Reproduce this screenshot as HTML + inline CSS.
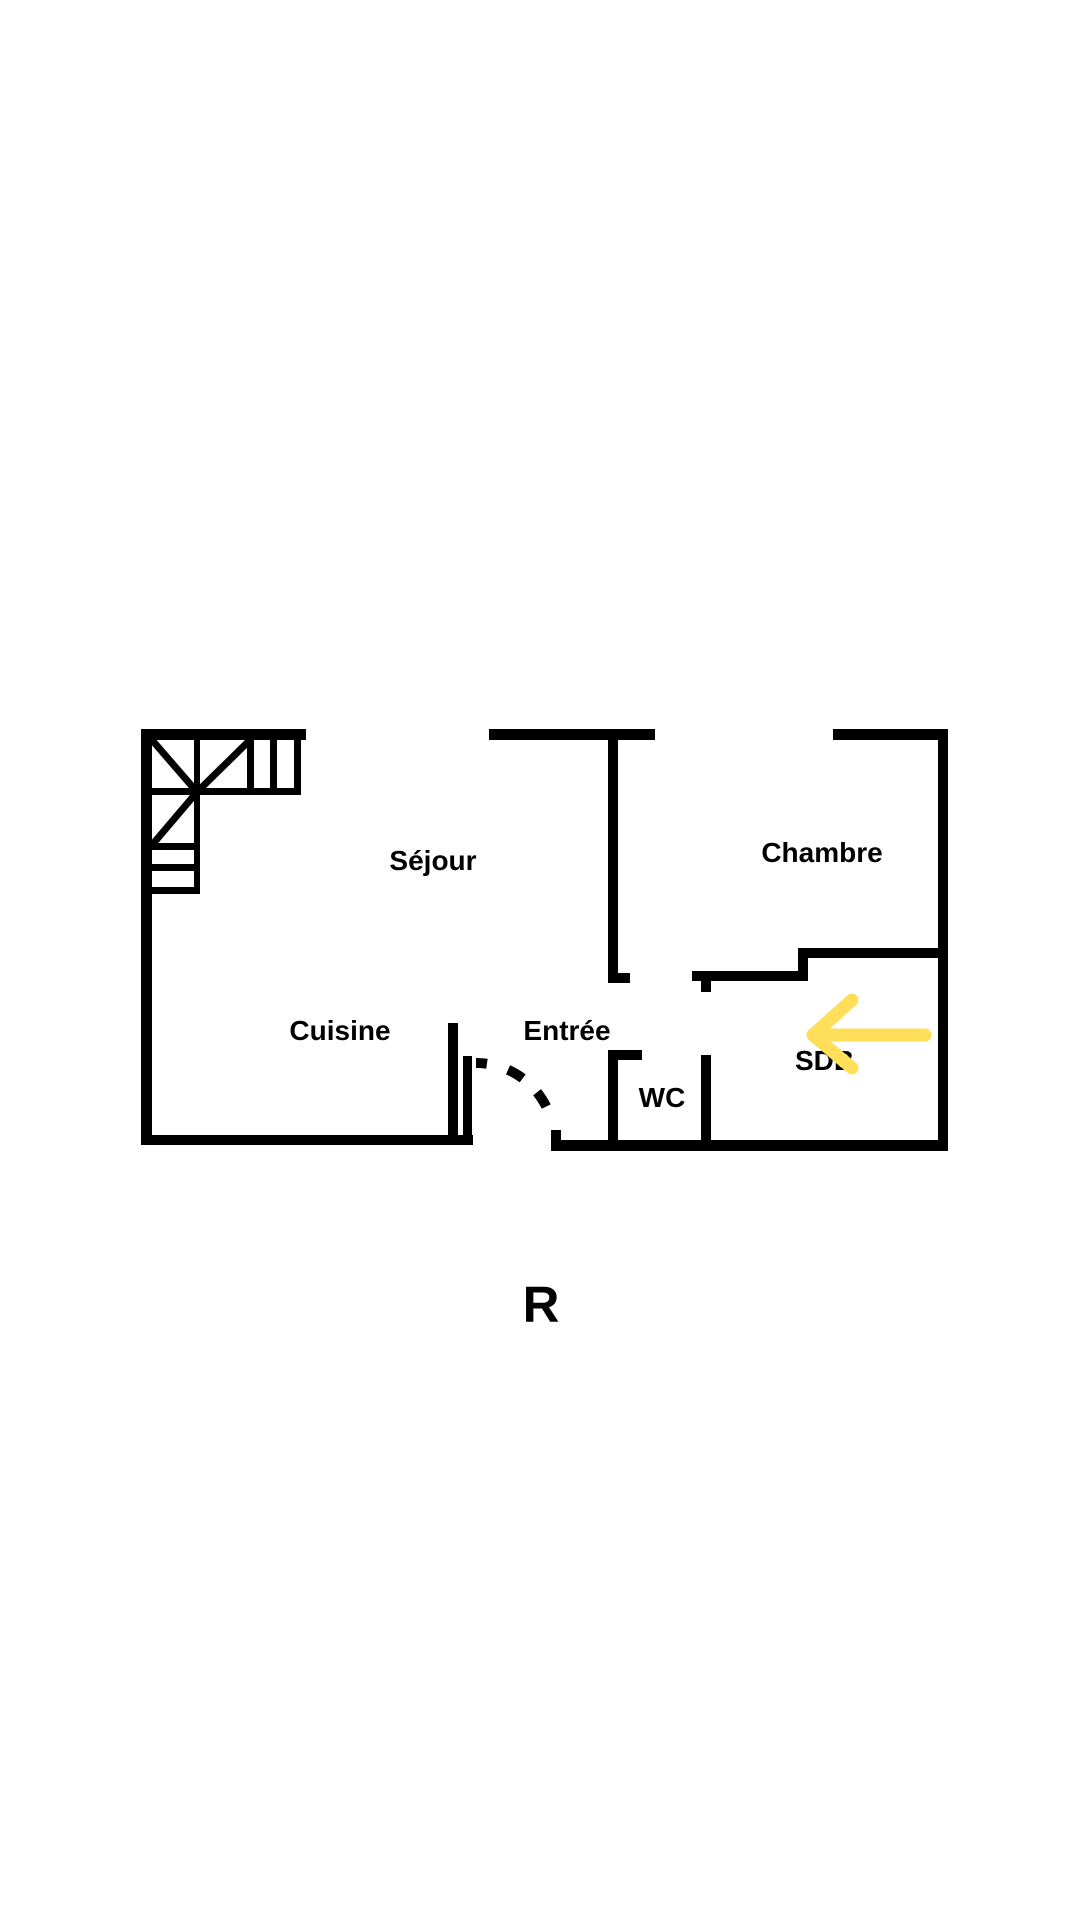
<!DOCTYPE html>
<html><head><meta charset="utf-8"><style>
html,body{margin:0;padding:0;background:#fff;width:1080px;height:1920px;overflow:hidden}
svg{display:block}
text{font-family:"Liberation Sans",sans-serif;font-weight:bold;fill:#000}
</style></head><body>
<svg width="1080" height="1920" viewBox="0 0 1080 1920" xmlns="http://www.w3.org/2000/svg">
<rect width="1080" height="1920" fill="#fff"/>
<g fill="#000">
<rect x="141" y="729" width="165" height="11"/>
<rect x="141" y="729" width="11" height="416"/>
<rect x="141" y="1135" width="332" height="10"/>
<rect x="448" y="1023" width="10" height="122"/>
<rect x="463" y="1056" width="9" height="89"/>
<rect x="141" y="788" width="160" height="7"/>
<rect x="294" y="735" width="7" height="60"/>
<rect x="270" y="735" width="7" height="60"/>
<rect x="247" y="735" width="7" height="60"/>
<rect x="194" y="735" width="6" height="159"/>
<rect x="141" y="843" width="59" height="7"/>
<rect x="141" y="864" width="59" height="7"/>
<rect x="141" y="887" width="59" height="7"/>
<rect x="489" y="729" width="166" height="11"/>
<rect x="608" y="735" width="10" height="248"/>
<rect x="608" y="973" width="22" height="10"/>
<rect x="833" y="729" width="115" height="11"/>
<rect x="938" y="729" width="10" height="422"/>
<rect x="798" y="948" width="150" height="10"/>
<rect x="798" y="948" width="10" height="33"/>
<rect x="692" y="971" width="116" height="10"/>
<rect x="701" y="975" width="10" height="17"/>
<rect x="701" y="1055" width="10" height="96"/>
<rect x="608" y="1050" width="10" height="101"/>
<rect x="608" y="1050" width="34" height="10"/>
<rect x="551" y="1140" width="397" height="11"/>
<rect x="551" y="1130" width="10" height="21"/>
</g>
<g stroke="#000" stroke-width="7" fill="none">
<line x1="152" y1="740" x2="197" y2="792"/>
<line x1="250" y1="740" x2="197" y2="792"/>
<line x1="197" y1="792" x2="152" y2="845"/>
</g>
<path d="M476 1063 A78 78 0 0 1 554 1135" stroke="#000" stroke-width="10" fill="none" stroke-dasharray="11 22 17 20 17 30"/>
<g font-size="28">
<text x="433" y="870" text-anchor="middle">Séjour</text>
<text x="340" y="1040" text-anchor="middle">Cuisine</text>
<text x="567" y="1040" text-anchor="middle">Entrée</text>
<text x="822" y="862" text-anchor="middle">Chambre</text>
<text x="662" y="1107" text-anchor="middle">WC</text>
</g>
<text x="795" y="1070" font-size="28">SDB</text>
<g stroke="#FFDE59" stroke-width="13" stroke-linecap="round" stroke-linejoin="round" fill="none">
<line x1="925" y1="1035" x2="813" y2="1035"/>
<polyline points="852,1000 813,1035 852,1068"/>
</g>
<text x="541" y="1322" font-size="51" text-anchor="middle">R</text>
</svg>
</body></html>
